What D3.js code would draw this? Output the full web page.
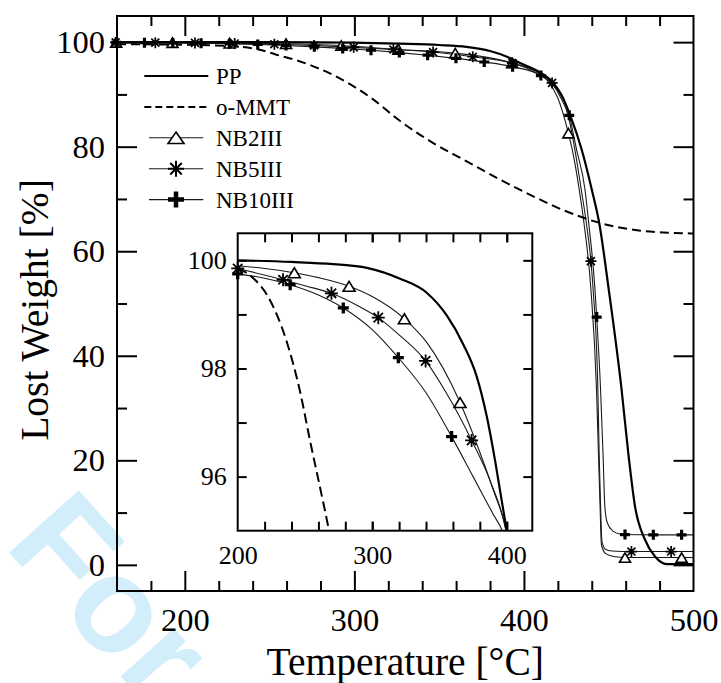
<!DOCTYPE html>
<html>
<head>
<meta charset="utf-8">
<script src="https://cdn.jsdelivr.net/npm/d3@7/dist/d3.min.js"></script>
<style>
html,body{margin:0;padding:0;background:#fff;}
svg{display:block;}
</style>
</head>
<body>
<svg id="chart" width="721" height="683"></svg>
<script>
// ---------------- data ----------------
const seriesNames = ["PP", "o-MMT", "NB2III", "NB5III", "NB10III"];
const xTitle = "Temperature [°C]";
const yTitle = "Lost Weight [%]";
const watermarkText = "For";

const mainXDomain = [160, 500];
const mainYDomain = [-5, 105];
const mainXTicks = [200, 300, 400, 500];
const mainXMinorTicks = [180, 220, 240, 260, 280, 320, 340, 360, 380, 420, 440, 460, 480];
const mainYTicks = [0, 20, 40, 60, 80, 100];
const mainYMinorTicks = [10, 30, 50, 70, 90];

const insetXDomain = [200, 419];
const insetYDomain = [95, 100.5];
const insetXTicks = [200, 300, 400];
const insetXMinorTicks = [220, 240, 260, 280, 320, 340, 360, 380];
const insetYTicks = [96, 98, 100];
const insetYMinorTicks = [97, 99];

// main plot: [temperature, weight %]
const mainPP = [[160,100],[250,100],[300,99.9],[327,99.7],[350,99.45],[366,99.1],[380,98.3],[390,97.2],[397.7,96.0],[409.5,94.2],[417.3,92.2],[422,90.0],[427.5,85.8],[434,79.5],[440,71.8],[444.4,65.4],[450,52.7],[457.6,33.5],[461.6,21.2],[465.5,11.2],[471.4,4.8],[477.3,1.6],[484.2,0.15],[500,0.15]];
const mainOMMT = [[160,99.6],[200,99.5],[228,99.2],[243.5,98.6],[254,97.6],[268,96.3],[290,93.3],[310,89.3],[327,84.9],[346.5,80.7],[366.2,77.2],[385.9,73.7],[405.5,70.5],[425.2,67.6],[444.9,65.4],[464.5,64.1],[482,63.6],[500,63.4]];

const mainNB2Line = [[405,94.5],[414,92.6],[420,89.3],[429.1,78.5],[432.6,71.8],[435.4,65.4],[439.5,52.7],[442.8,33.5],[444.0,20.7],[444.9,11.2],[445.7,3.8],[448.4,2.1],[454,1.55],[500,1.4]];
const mainNB2Marks = [[159.5,99.95],[192.7,99.9],[226.4,99.8],[259.7,99.7],[292.3,99.35],[326,98.6],[359.5,97.9],[393,96.0],[426.2,82.6],[459.6,1.4],[493,1.4]];

const mainNB5Line = [[409.5,94.0],[421,89.8],[426.2,85.8],[430,79.5],[433.8,71.8],[436.8,65.4],[440.8,52.7],[443.6,33.5],[444.4,20.7],[445.2,11.2],[446,4.5],[448,3.0],[452,2.65],[458,2.56],[500,2.55]];
const mainNB5Marks = [[159.2,99.95],[182.6,99.9],[206,99.85],[229.4,99.75],[252.8,99.6],[276.2,99.35],[299.6,99.0],[323,98.6],[346.4,98.1],[369.8,97.2],[393.2,96.0],[416.6,92.2],[439.5,58.1],[463.4,2.55],[486.8,2.55]];

const mainNB10Line = [[417,91.8],[431,79.5],[436,71.8],[438.2,65.4],[441.9,52.7],[445.2,33.5],[446.7,20.7],[447.7,11.2],[449.2,8.0],[452.7,6.4],[456.6,5.9],[500,5.74]];
const mainNB10Marks = [[159.5,99.95],[176.2,99.9],[192.9,99.85],[209.6,99.8],[226.3,99.7],[243,99.55],[259.7,99.35],[276.4,99.1],[293.1,98.8],[309.8,98.45],[326.5,98.0],[343.2,97.5],[359.9,96.9],[376.6,96.2],[393.3,95.3],[410,93.6],[426.7,86.0],[442.9,47.4],[459.6,5.8],[476.3,5.74],[493,5.74]];

// inset plot
const insetPP = [[200,100.0],[240,99.97],[271,99.93],[296,99.86],[320.7,99.66],[340.5,99.4],[355.4,98.98],[367.8,98.44],[377.7,97.85],[385.1,97.12],[391.3,96.3],[396.3,95.55],[400,95.0],[402,94.7]];
const insetOMMT = [[200,99.85],[206.5,99.77],[212.8,99.64],[221.6,99.37],[229,99.0],[236.4,98.5],[246.3,97.58],[253.8,96.66],[261.2,95.8],[267.4,95.06],[269,94.85]];

const insetNB2Line = [[200,99.9],[220,99.85],[260,99.68],[300,99.33],[340,98.5],[380,96.45],[390,95.75],[399.5,95.0],[401,94.8]];
const insetNB2Marks = [[242.1,99.77],[282.8,99.52],[323.9,98.92],[365.3,97.37]];

const insetNB5Line = [[250,99.53],[290,99.15],[320,98.62],[355,97.55],[388,95.9],[399.5,95.0],[401,94.8]];
const insetNB5Marks = [[200,99.85],[233.7,99.64],[269.7,99.39],[304.5,98.94],[339.7,98.14],[373.9,96.67]];

const insetNB10Line = [[220,99.67],[260,99.36],[300,98.72],[340,97.55],[375,96.0],[390,95.3],[396.6,95.0],[398,94.9]];
const insetNB10Marks = [[200,99.75],[239,99.55],[278.5,99.12],[319.4,98.2],[359,96.74]];

// ---------------- drawing ----------------
const SERIF = '"Liberation Serif"';
const svg = d3.select("#chart");
const byT = (a, b) => a[0] - b[0];
const merge = (line, marks) => line.concat(marks).sort(byT);
const serifText = sel => sel.attr("font-family", "Liberation Serif").style("font-family", SERIF);

// watermark (drawn first, under everything)
svg.append("text")
  .attr("transform", "translate(3,546) rotate(48)")
  .style("font-family", '"Liberation Sans"')
  .style("font-weight", "bold")
  .style("font-size", "136px")
  .style("fill", "#d3eefb")
  .text(watermarkText);

function markerPath(type, s) {
  if (type === "tri") return `M0,${-s.h/2}L${s.w/2},${s.h/2}L${-s.w/2},${s.h/2}Z`;
  if (type === "star") {
    const r = s.r, a = r * 0.72;
    return `M0,${-r}L0,${r}M${-r},0L${r},0M${-a},${-a}L${a},${a}M${-a},${a}L${a},${-a}`;
  }
  return `M0,${-s.r}L0,${s.r}M${-s.r},0L${s.r},0`;
}
function styleMarker(sel, type, s) {
  sel.attr("d", markerPath(type, s))
    .attr("fill", type === "tri" ? "#fff" : "none")
    .attr("stroke", "#000")
    .attr("stroke-width", type === "tri" ? 1.6 : s.sw)
    .attr("stroke-linejoin", "miter");
}

function drawPanel(g, box, xs, ys, cfg) {
  const clipId = cfg.id + "-clip";
  g.append("clipPath").attr("id", clipId)
    .append("rect").attr("x", box.left).attr("y", box.top)
    .attr("width", box.right - box.left).attr("height", box.bottom - box.top);

  if (cfg.bg) g.append("rect").attr("x", box.left).attr("y", box.top)
    .attr("width", box.right - box.left).attr("height", box.bottom - box.top).attr("fill", "#fff");

  const line = d3.line().x(d => xs(d[0])).y(d => ys(d[1])).curve(d3.curveMonotoneX);
  const lines = g.append("g").attr("clip-path", `url(#${clipId})`);

  cfg.thin.forEach(s => {
    lines.append("path").datum(merge(s.line, s.marks))
      .attr("d", line).attr("fill", "none").attr("stroke", "#1a1a1a").attr("stroke-width", 1.1);
  });
  lines.append("path").datum(cfg.ommt).attr("d", line).attr("fill", "none")
    .attr("stroke", "#000").attr("stroke-width", 2).attr("stroke-dasharray", cfg.dash);
  lines.append("path").datum(cfg.pp).attr("d", line).attr("fill", "none")
    .attr("stroke", "#000").attr("stroke-width", 2.2);

  cfg.thin.forEach(s => {
    g.append("g").selectAll("path").data(s.marks).join("path")
      .attr("transform", d => `translate(${xs(d[0])},${ys(d[1])})`)
      .call(sel => styleMarker(sel, s.type, cfg.msize[s.type]));
  });

  const ax = (axis, tx, ty, vals, size) => {
    const a = g.append("g").attr("transform", `translate(${tx},${ty})`)
      .call(axis.tickValues(vals).tickSizeInner(-size).tickSizeOuter(0).tickFormat(""));
    a.select(".domain").remove();
    a.selectAll("line").attr("stroke", "#000").attr("stroke-width", 2);
    return a;
  };
  const inX = v => v > xs.domain()[0] && v < xs.domain()[1];
  const inY = v => v > ys.domain()[0] && v < ys.domain()[1];
  ax(d3.axisBottom(xs), 0, box.bottom, cfg.xTicks.filter(inX), cfg.major);
  ax(d3.axisBottom(xs), 0, box.bottom, cfg.xMinor, cfg.minor);
  ax(d3.axisTop(xs), 0, box.top, cfg.xTicks.filter(inX), cfg.major);
  ax(d3.axisTop(xs), 0, box.top, cfg.xMinor, cfg.minor);
  ax(d3.axisLeft(ys), box.left, 0, cfg.yTicks.filter(inY), cfg.major);
  ax(d3.axisLeft(ys), box.left, 0, cfg.yMinor, cfg.minor);
  ax(d3.axisRight(ys), box.right, 0, cfg.yTicks.filter(inY), cfg.major);
  ax(d3.axisRight(ys), box.right, 0, cfg.yMinor, cfg.minor);

  const fs = cfg.fontSize;
  const xl = g.append("g").attr("transform", `translate(0,${box.bottom})`)
    .call(d3.axisBottom(xs).tickValues(cfg.xTicks).tickSize(0).tickPadding(cfg.xPad).tickFormat(d3.format("d")));
  xl.select(".domain").remove();
  xl.call(serifText).attr("font-size", fs);
  xl.selectAll("text").call(serifText).style("font-size", fs + "px").attr("fill", "#000");
  const yl = g.append("g").attr("transform", `translate(${box.left},0)`)
    .call(d3.axisLeft(ys).tickValues(cfg.yTicks).tickSize(0).tickPadding(cfg.yPad).tickFormat(d3.format("d")));
  yl.select(".domain").remove();
  yl.call(serifText).attr("font-size", fs);
  yl.selectAll("text").call(serifText).style("font-size", fs + "px").attr("fill", "#000");

  g.append("rect").attr("x", box.left).attr("y", box.top)
    .attr("width", box.right - box.left).attr("height", box.bottom - box.top)
    .attr("fill", "none").attr("stroke", "#000").attr("stroke-width", 2);
}

// ---- main panel ----
const MB = {left: 117, right: 693.5, top: 16, bottom: 591};
const x = d3.scaleLinear().domain(mainXDomain).range([MB.left, MB.right]);
const y = d3.scaleLinear().domain(mainYDomain).range([MB.bottom, MB.top]);
const gMain = svg.append("g");
drawPanel(gMain, MB, x, y, {
  id: "main", bg: false, pp: mainPP, ommt: mainOMMT, dash: "9,5",
  thin: [
    {type: "tri", line: mainNB2Line, marks: mainNB2Marks},
    {type: "star", line: mainNB5Line, marks: mainNB5Marks},
    {type: "plus", line: mainNB10Line, marks: mainNB10Marks}
  ],
  msize: {tri: {w: 11, h: 9.5}, star: {r: 5.5, sw: 1.7}, plus: {r: 5, sw: 3.2}},
  xTicks: mainXTicks, xMinor: mainXMinorTicks, yTicks: mainYTicks, yMinor: mainYMinorTicks,
  major: 20, minor: 10, fontSize: 32.5, xPad: 17, yPad: 12
});

svg.append("text").attr("x", (MB.left + MB.right) / 2).attr("y", 675)
  .attr("text-anchor", "middle").call(serifText).style("font-size", "39.5px").text(xTitle);
svg.append("text").attr("transform", `translate(48,${310}) rotate(-90)`)
  .attr("text-anchor", "middle").call(serifText).style("font-size", "39.5px").text(yTitle);

// legend
const legendTypes = ["solid", "dash", "tri", "star", "plus"];
const legSize = {tri: {w: 16, h: 11.5}, star: {r: 8, sw: 2}, plus: {r: 8, sw: 4.5}};
const leg = svg.append("g");
seriesNames.forEach((name, i) => {
  const ly = 76 + i * 30.9;
  const t = legendTypes[i];
  if (t === "solid" || t === "dash") {
    leg.append("line").attr("x1", 144.3).attr("x2", 208.3).attr("y1", ly).attr("y2", ly)
      .attr("stroke", "#000").attr("stroke-width", t === "solid" ? 2.2 : 2)
      .attr("stroke-dasharray", t === "dash" ? "7,4" : null);
  } else {
    leg.append("line").attr("x1", 149).attr("x2", 203.3).attr("y1", ly).attr("y2", ly)
      .attr("stroke", "#1a1a1a").attr("stroke-width", 1.1);
    leg.append("path").attr("transform", `translate(176,${ly})`).call(sel => styleMarker(sel, t, legSize[t]));
  }
  leg.append("text").attr("x", 216).attr("y", ly + 8).call(serifText).style("font-size", "23px").text(name);
});

// ---- inset panel ----
const IB = {left: 237.7, right: 532.3, top: 233.3, bottom: 530.7};
const xi = d3.scaleLinear().domain(insetXDomain).range([IB.left, IB.right]);
const yi = d3.scaleLinear().domain(insetYDomain).range([IB.bottom, IB.top]);
const gInset = svg.append("g");
drawPanel(gInset, IB, xi, yi, {
  id: "inset", bg: true, pp: insetPP, ommt: insetOMMT, dash: "10,5",
  thin: [
    {type: "tri", line: insetNB2Line, marks: insetNB2Marks},
    {type: "star", line: insetNB5Line, marks: insetNB5Marks},
    {type: "plus", line: insetNB10Line, marks: insetNB10Marks}
  ],
  msize: {tri: {w: 12, h: 10}, star: {r: 6.5, sw: 1.8}, plus: {r: 5.5, sw: 3.3}},
  xTicks: insetXTicks, xMinor: insetXMinorTicks.concat([300, 400]), yTicks: insetYTicks, yMinor: insetYMinorTicks,
  major: 9, minor: 9, fontSize: 26, xPad: 15, yPad: 11
});
</script>
</body>
</html>
